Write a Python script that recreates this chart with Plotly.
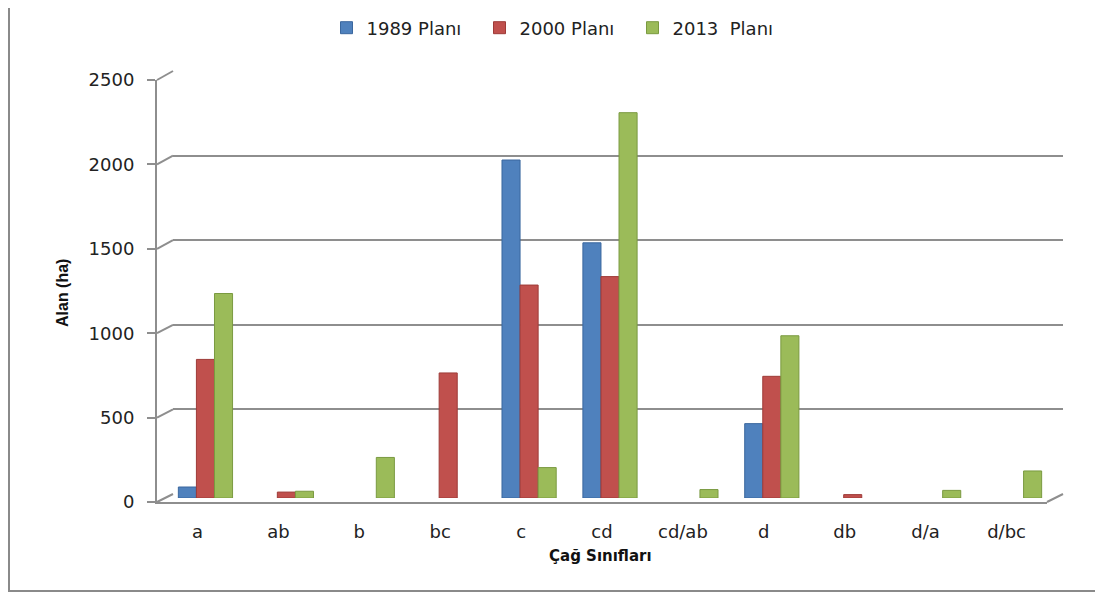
import plotly.graph_objects as go

categories = ["a", "ab", "b", "bc", "c", "cd", "cd/ab", "d", "db", "d/a", "d/bc"]
plan_1989 = [65, None, None, None, 2000, 1510, None, 440, None, None, None]
plan_2000 = [820, 35, None, 740, 1260, 1310, None, 720, 20, None, None]
plan_2013 = [1210, 40, 240, None, 180, 2280, 50, 960, None, 45, 160]
series_names = ["1989 Planı", "2000 Planı", "2013  Planı"]
y_ticks = [0, 500, 1000, 1500, 2000, 2500]

# page body has an 8px margin, so the figure starts at (8, 8) of the window
OFF = 8
W, H = 1095, 589
def px(x):
    return (x - OFF) / W
def py(y):
    return 1 - (y - OFF) / H

colors = ["#4F81BD", "#C0504D", "#9BBB59"]
edges = ["#3A679E", "#9E3B38", "#7A9A40"]
GRID = "#8E8E8E"
TICKFONT = dict(family="DejaVu Sans", size=18, color="#222")

fig = go.Figure()

# back-wall grid subplot (x/y)
fig.add_trace(go.Scatter(x=[], y=[], xaxis="x", yaxis="y", showlegend=False, hoverinfo="skip"))
# front axes subplot (x3/y3)
fig.add_trace(go.Scatter(x=[], y=[], xaxis="x3", yaxis="y3", showlegend=False, hoverinfo="skip"))

for name, vals, c, e in zip(series_names, [plan_1989, plan_2000, plan_2013], colors, edges):
    fig.add_trace(go.Bar(x=categories, y=vals, name=name, xaxis="x2", yaxis="y2",
                         marker=dict(color=c, line=dict(color=e, width=1))))

fig.update_layout(
    width=W, height=H,
    margin=dict(l=0, r=0, t=0, b=0, pad=0, autoexpand=False),
    paper_bgcolor="white", plot_bgcolor="rgba(0,0,0,0)",
    barmode="group", bargap=0.33, bargroupgap=0.0,
    font=dict(family="DejaVu Sans", color="#000000"),
    xaxis=dict(domain=[px(173), px(1063)], range=[-0.5, 10.5], visible=False, anchor="y",
               automargin=False),
    yaxis=dict(domain=[py(494), py(71)], range=[0, 2500], anchor="x", showgrid=True,
               gridcolor=GRID, gridwidth=2, tickvals=y_ticks, showticklabels=False,
               zeroline=False, showline=False, ticks="", automargin=False),
    xaxis2=dict(domain=[px(165), px(1055)], type="category", range=[-0.5, 10.5],
                visible=False, anchor="y2", automargin=False),
    yaxis2=dict(domain=[py(498), py(75.5)], range=[0, 2500], visible=False, anchor="x2",
                automargin=False),
    xaxis3=dict(domain=[px(157), px(1047)], type="category", categoryarray=categories,
                categoryorder="array", range=[-0.5, 10.5], anchor="y3", automargin=False,
                showline=True, linecolor=GRID, linewidth=2, showgrid=False, zeroline=False,
                ticks="", tickfont=TICKFONT, ticklabelstandoff=12),
    yaxis3=dict(domain=[py(502), py(80)], range=[0, 2500], anchor="x3", automargin=False,
                showline=True, linecolor=GRID, linewidth=2, showgrid=False, zeroline=False,
                ticks="outside", ticklen=8, tickcolor=GRID, tickwidth=2, tickvals=y_ticks,
                tickfont=TICKFONT, ticklabelstandoff=9),
    legend=dict(orientation="h", x=px(556), xanchor="center", y=py(28), yanchor="middle",
                font=dict(family="DejaVu Sans", size=18, color="#222"),
                itemwidth=30, entrywidth=108, bgcolor="rgba(0,0,0,0)"),
    annotations=[
        dict(text="<b>Çağ Sınıfları</b>", x=px(600), y=py(556), xref="paper", yref="paper",
             xanchor="center", yanchor="middle", showarrow=False,
             font=dict(family="DejaVu Sans", size=15, color="#111")),
        dict(text="<b>Alan (ha)</b>", x=px(62), y=py(293), xref="paper", yref="paper",
             xanchor="center", yanchor="middle", showarrow=False, textangle=-90,
             font=dict(family="Liberation Sans", size=16, color="#111")),
    ],
)

shapes = [dict(type="rect", xref="paper", yref="paper", x0=px(9), y0=py(591), x1=px(1100), y1=py(1),
               line=dict(color="#8A8A8A", width=2), layer="below")]
# 3D wall / floor connectors from front axis to back wall
for v in y_ticks:
    yf = 502 - v * (502 - 80) / 2500
    yb = 494 - v * (494 - 71) / 2500
    shapes.append(dict(type="line", xref="paper", yref="paper", x0=px(157), y0=py(yf),
                       x1=px(173), y1=py(yb), line=dict(color=GRID, width=2)))
shapes.append(dict(type="line", xref="paper", yref="paper", x0=px(1047), y0=py(502),
                   x1=px(1063), y1=py(494), line=dict(color=GRID, width=2)))
fig.update_layout(shapes=shapes)

fig.write_html("out.html")
